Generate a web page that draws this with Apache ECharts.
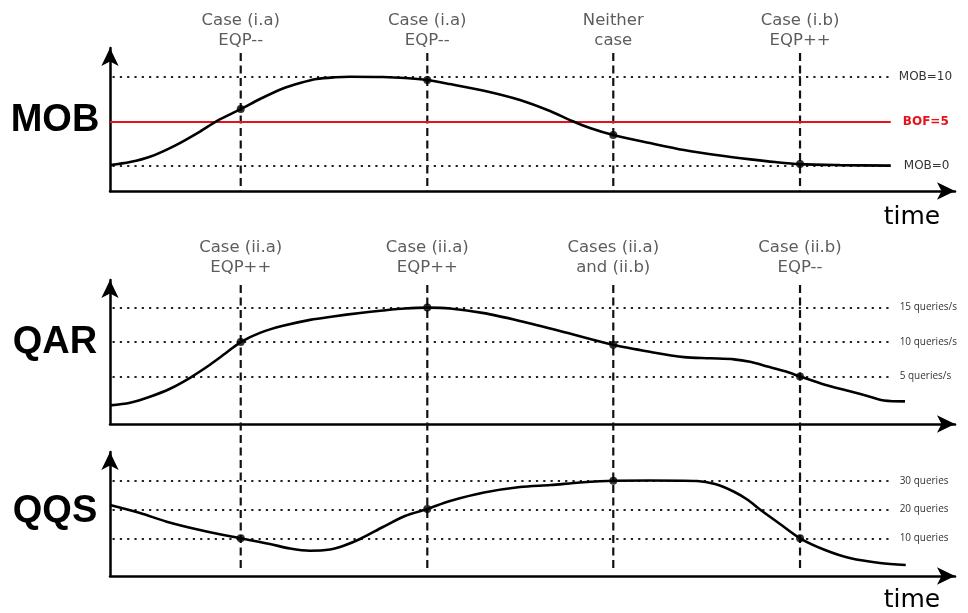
<!DOCTYPE html>
<html><head><meta charset="utf-8">
<script src="https://cdn.jsdelivr.net/npm/echarts@6/dist/echarts.min.js"></script>
<style>html,body{margin:0;padding:0;background:#fff}#c{width:968px;height:613px}</style>
</head><body><div id="c"></div>
<script>
// ---- data ----
const eventTimes = [15.47, 37.55, 59.56, 81.66];
const topEventLabels = ['Case (i.a)\nEQP--', 'Case (i.a)\nEQP--', 'Neither\ncase', 'Case (i.b)\nEQP++'];
const midEventLabels = ['Case (ii.a)\nEQP++', 'Case (ii.a)\nEQP++', 'Cases (ii.a)\nand (ii.b)', 'Case (ii.b)\nEQP--'];

const mobTime  = [0, 2.37, 4.73, 7.69, 10.65, 12.63, 15.47, 17.75, 20.47, 22.49, 24.46, 26.63, 28.4, 32.3, 34.91, 37.55, 40.24, 44.26, 48.52, 52.07, 54.7, 56.8, 59.56, 63.9, 67.93, 72.19, 75.8, 78.7, 81.66, 86.4, 92.4];
const mobValue = [0.11, 0.45, 1.04, 2.3, 3.88, 5.06, 6.4, 7.53, 8.71, 9.33, 9.78, 9.97, 10.03, 10.0, 9.89, 9.66, 9.21, 8.46, 7.42, 6.18, 5.06, 4.27, 3.48, 2.58, 1.8, 1.18, 0.75, 0.45, 0.22, 0.11, 0.05];
const qarTime  = [0, 2.37, 4.73, 7.1, 9.47, 11.83, 13.6, 15.47, 17.75, 20.47, 23.67, 26.39, 29.59, 32.3, 34.91, 37.55, 40.24, 44.26, 48.5, 53.25, 59.56, 63.9, 67.93, 71.0, 73.85, 75.74, 77.8, 79.9, 81.66, 84.6, 87.66, 89.94, 91.6, 94.08];
const qarValue = [0.8, 1.19, 2.06, 3.22, 4.81, 6.7, 8.29, 10.0, 11.33, 12.35, 13.22, 13.72, 14.23, 14.59, 14.88, 15.0, 14.88, 14.2, 13.07, 11.62, 9.6, 8.58, 7.81, 7.64, 7.49, 7.13, 6.45, 5.75, 5.0, 3.8, 2.83, 2.06, 1.52, 1.38];
const qqsTime  = [0, 3.55, 6.71, 10.65, 15.47, 18.93, 21.3, 23.67, 26.04, 27.57, 29.59, 32.3, 34.91, 37.55, 40.24, 44.26, 48.52, 52.15, 55.62, 59.56, 63.9, 69.47, 71.6, 73.85, 75.5, 77.0, 79.29, 81.66, 84.62, 87.66, 91.12, 94.17];
const qqsValue = [21.56, 18.78, 15.76, 12.88, 10.0, 8.02, 6.46, 5.7, 6.11, 7.33, 9.76, 13.92, 17.74, 20.2, 22.95, 25.9, 27.81, 28.5, 29.38, 30.0, 30.07, 29.9, 28.85, 26.18, 23.3, 19.8, 14.97, 10.0, 5.94, 3.05, 1.42, 0.73];

const mobRefValues = [10, 0];
const mobRefLabels = ['MOB=10', 'MOB=0'];
const bofValue = 5;
const bofLabel = 'BOF=5';
const qarRefValues = [15, 10, 5];
const qarRefLabels = ['15 queries/s', '10 queries/s', '5 queries/s'];
const qqsRefValues = [30, 20, 10];
const qqsRefLabels = ['30 queries', '20 queries', '10 queries'];
const panelNames = ['MOB', 'QAR', 'QQS'];
const timeLabel = 'time';

// ---- layout / style ----
const refStart = 0.3, refEndTop = 92.4, refEndLow = 92.5;
const mobRange = [-2.8, 13.26], qarRange = [-1.9, 19.01], qqsRange = [-3.09, 39.97];
const topDashSpan = [12.7, -2.8];      // MOB units
const lowDashSpan = [97.95, -1.7];     // QQS units (extends up through QAR panel)
const midLabelAnchor = 18.29;          // QAR units

const zip = (a, b) => a.map((v, i) => [v, b[i]]);
const atEvents = (t, v) => eventTimes.map(e => [e, v[t.indexOf(e)]]);

const dotStyle = {type: [2.2, 5.1], color: '#222', width: 2.2};
const dashStyle = {type: [8, 4.5], color: '#111', width: 2.2};
const refLabelBase = {position: 'end', color: '#333', fontFamily: 'DejaVu Sans', fontSize: 12};
const qLabelBase = {position: 'end', color: '#333', fontFamily: 'Open Sans', fontSize: 10, distance: 8};

function axisPair(i, range) {
  const line = {show: true, onZero: false, symbol: ['none', 'arrow'], symbolSize: [13, 18], symbolOffset: [0, 0],
    lineStyle: {color: '#000', width: 2.5}};
  return {
    x: {type: 'value', gridIndex: i, min: 0, max: 100, axisLine: line, axisTick: {show: false}, axisLabel: {show: false}, splitLine: {show: false}},
    y: {type: 'value', gridIndex: i, min: range[0], max: range[1], axisLine: line, axisTick: {show: false}, axisLabel: {show: false}, splitLine: {show: false}}
  };
}
const ax = [axisPair(0, mobRange), axisPair(1, qarRange), axisPair(2, qqsRange)];

function curve(i, t, v, refs) {
  return {type: 'line', xAxisIndex: i, yAxisIndex: i, data: zip(t, v), smooth: 0.3,
    symbol: 'none', lineStyle: {color: '#000', width: 2.6}, z: 5, silent: true,
    markLine: {silent: true, symbol: ['none', 'none'], animation: false, lineStyle: dotStyle, data: refs}};
}
function dots(i, t, v) {
  return {type: 'scatter', xAxisIndex: i, yAxisIndex: i, data: atEvents(t, v), symbolSize: 8,
    itemStyle: {color: '#000'}, z: 10, silent: true};
}
function dashes(i, span) {
  return eventTimes.map(e => ({type: 'line', xAxisIndex: i, yAxisIndex: i, data: [[e, span[0]], [e, span[1]]],
    symbol: 'none', clip: false, lineStyle: dashStyle, z: 3, silent: true}));
}
function eventLabels(i, anchor, labels, dist) {
  return {type: 'scatter', xAxisIndex: i, yAxisIndex: i, data: eventTimes.map(e => [e, anchor]), symbolSize: 0,
    silent: true, label: {show: true, position: 'top', distance: dist, formatter: p => labels[p.dataIndex],
      color: '#333', fontFamily: 'DejaVu Sans', fontSize: 16.5, lineHeight: 20, align: 'center'}};
}

const mobRefs = mobRefValues.map((v, k) => [
  {coord: [refStart, v], name: mobRefLabels[k], label: Object.assign({}, refLabelBase, {formatter: '{b}', distance: k === 0 ? 8 : 13})},
  {coord: [refEndTop, v]}]);
mobRefs.push([
  {coord: [0, bofValue], name: bofLabel, lineStyle: {type: 'solid', color: '#e8111a', width: 2.2},
   label: Object.assign({}, refLabelBase, {formatter: '{b}', color: '#e8111a', fontWeight: 'bold', distance: 12})},
  {coord: [refEndTop, bofValue]}]);
const qarRefs = qarRefValues.map((v, k) => [
  {coord: [refStart, v], name: qarRefLabels[k], label: Object.assign({}, qLabelBase, {formatter: '{b}'})},
  {coord: [refEndLow, v]}]);
const qqsRefs = qqsRefValues.map((v, k) => [
  {coord: [refStart, v], name: qqsRefLabels[k], label: Object.assign({}, qLabelBase, {formatter: '{b}'})},
  {coord: [refEndLow, v]}]);

const bigFont = 'bold 38px "Liberation Sans"';
const timeFont = '25px "DejaVu Sans"';
const txt = (x, y, text, font) => ({type: 'text', x: x, y: y, silent: true,
  style: {text: text, font: font, fill: '#000', align: 'center', verticalAlign: 'middle'}});

const chart = echarts.init(document.getElementById('c'), null, {renderer: 'canvas'});
chart.setOption({
  animation: false,
  backgroundColor: '#fff',
  grid: [
    {left: 110, right: 13, top: 48, height: 143},
    {left: 110, right: 13, top: 280, height: 144},
    {left: 110, right: 13, top: 452, height: 124}
  ],
  xAxis: ax.map(a => a.x),
  yAxis: ax.map(a => a.y),
  graphic: [
    txt(55, 121, panelNames[0], bigFont),
    txt(55, 343, panelNames[1], bigFont),
    txt(55, 512, panelNames[2], bigFont),
    txt(912, 217, timeLabel, timeFont),
    txt(912, 600, timeLabel, timeFont)
  ],
  series: [
    ...dashes(0, topDashSpan),
    ...dashes(2, lowDashSpan),
    curve(0, mobTime, mobValue, mobRefs),
    curve(1, qarTime, qarValue, qarRefs),
    curve(2, qqsTime, qqsValue, qqsRefs),
    dots(0, mobTime, mobValue),
    dots(1, qarTime, qarValue),
    dots(2, qqsTime, qqsValue),
    eventLabels(0, topDashSpan[0], topEventLabels, 2),
    eventLabels(1, midLabelAnchor, midEventLabels, 7)
  ]
});
</script></body></html>
